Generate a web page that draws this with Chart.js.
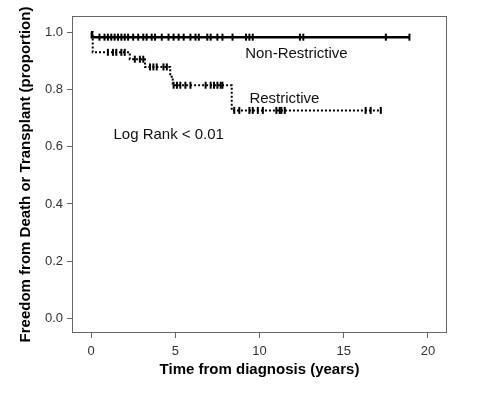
<!DOCTYPE html>
<html>
<head>
<meta charset="utf-8">
<script src="https://cdn.jsdelivr.net/npm/chart.js@4"></script>
<style>
  html, body { margin: 0; padding: 0; background: #fff; }
  canvas { display: block; }
</style>
</head>
<body>
<canvas id="km" width="480" height="397"></canvas>
<script>
// Kaplan-Meier steps: time (years) and proportion free from death/transplant
const nonRestrictTimes = [0, 0.05, 18.9];
const nonRestrictSurv  = [1.0, 0.983, 0.983];
const restrictTimes = [0, 0.1, 2.3, 3.2, 4.7, 4.85, 8.35, 17.2];
const restrictSurv  = [1.0, 0.930, 0.906, 0.879, 0.845, 0.815, 0.727, 0.727];

// censored cases (years)
const nonRestrictCensored = [0.5, 0.8, 1.0, 1.2, 1.4, 1.6, 1.8, 2.0, 2.2, 2.5, 2.8, 3.1, 3.3,
  3.6, 3.8, 4.2, 4.6, 4.9, 5.2, 5.5, 5.9, 6.2, 6.4, 6.9, 7.1, 7.5, 7.8, 8.4, 9.2, 9.4, 9.6,
  12.4, 12.6, 17.5, 18.9];
const restrictCensored = [1.0, 1.3, 1.5, 1.8, 2.0, 2.6, 2.9, 3.1, 3.5, 3.7, 3.9, 4.3, 4.5,
  4.9, 5.1, 5.3, 5.6, 5.9, 6.8, 7.1, 7.3, 7.5, 7.7, 7.8, 8.5, 8.8, 9.4, 9.6, 9.9, 10.2,
  11.0, 11.2, 11.3, 11.5, 16.3, 16.6, 17.2];

const xTicks = [0, 5, 10, 15, 20];
const yTicks = [0, 0.2, 0.4, 0.6, 0.8, 1.0];

// survival value at time t from the step arrays
function survAt(times, surv, t) {
  let s = surv[0];
  for (let i = 0; i < times.length; i++) {
    if (times[i] <= t) s = surv[i];
  }
  return s;
}

function steps(times, surv) {
  return times.map((t, i) => ({ x: t, y: surv[i] }));
}

function marks(cens, times, surv) {
  return cens.map(t => ({ x: t, y: survAt(times, surv, t) }));
}

const FONT = "'Liberation Sans', Arial, sans-serif";

// text notes placed in data coordinates
const notes = [
  { text: 'Non-Restrictive', x: 9.15, y: 0.910 },
  { text: 'Restrictive', x: 9.4, y: 0.753 },
  { text: 'Log Rank < 0.01', x: 1.33, y: 0.627 }
];

const frameAndNotes = {
  id: 'frameAndNotes',
  afterDraw(chart) {
    const { ctx, chartArea: a, scales: { x, y } } = chart;
    ctx.save();
    ctx.strokeStyle = '#666';
    ctx.lineWidth = 1;
    ctx.strokeRect(a.left + 0.5, a.top + 0.5, a.right - a.left - 1, a.bottom - a.top - 1);
    ctx.fillStyle = '#111';
    ctx.font = '15px ' + FONT;
    ctx.textAlign = 'left';
    ctx.textBaseline = 'alphabetic';
    notes.forEach(n => ctx.fillText(n.text, x.getPixelForValue(n.x), y.getPixelForValue(n.y)));
    ctx.restore();
  }
};

new Chart(document.getElementById('km'), {
  type: 'line',
  data: {
    datasets: [
      {
        label: 'Non-Restrictive',
        data: steps(nonRestrictTimes, nonRestrictSurv),
        stepped: true,
        borderColor: '#000',
        borderWidth: 2.5,
        pointRadius: 0,
        fill: false
      },
      {
        label: 'Restrictive',
        data: steps(restrictTimes, restrictSurv),
        stepped: true,
        borderColor: '#000',
        borderWidth: 2,
        borderDash: [2, 2],
        pointRadius: 0,
        fill: false
      },
      {
        label: 'Non-Restrictive censored',
        data: marks(nonRestrictCensored, nonRestrictTimes, nonRestrictSurv),
        showLine: false,
        pointStyle: 'line',
        rotation: 90,
        pointRadius: 3.5,
        pointBorderWidth: 2,
        borderColor: '#000'
      },
      {
        label: 'Restrictive censored',
        data: marks(restrictCensored, restrictTimes, restrictSurv),
        showLine: false,
        pointStyle: 'line',
        rotation: 90,
        pointRadius: 3.5,
        pointBorderWidth: 2,
        borderColor: '#000'
      }
    ]
  },
  options: {
    responsive: false,
    animation: false,
    layout: { padding: { left: 0, top: 16, right: 33, bottom: 0 } },
    plugins: { legend: { display: false }, tooltip: { enabled: false } },
    scales: {
      x: {
        type: 'linear',
        min: -1.13,
        max: 21.13,
        afterBuildTicks: s => { s.ticks = xTicks.map(v => ({ value: v })); },
        afterFit: s => { s.height = 64; },
        border: { display: false },
        grid: { drawOnChartArea: false, drawTicks: true, tickLength: 5, color: '#666' },
        ticks: { padding: 6, color: '#333', font: { family: FONT, size: 13 } },
        title: {
          display: true,
          text: 'Time from diagnosis (years)',
          color: '#000',
          font: { family: FONT, size: 15, weight: 'bold' },
          padding: { top: 0, bottom: 18 }
        }
      },
      y: {
        type: 'linear',
        min: -0.051,
        max: 1.057,
        afterBuildTicks: s => { s.ticks = yTicks.map(v => ({ value: v })); },
        afterFit: s => { s.width = 72; },
        border: { display: false },
        grid: { drawOnChartArea: false, drawTicks: true, tickLength: 5, color: '#666' },
        ticks: {
          padding: 4,
          color: '#333',
          font: { family: FONT, size: 13 },
          callback: v => v.toFixed(1)
        },
        title: {
          display: true,
          text: 'Freedom from Death or Transplant (proportion)',
          color: '#000',
          font: { family: FONT, size: 15, weight: 'bold' },
          padding: { top: 17, bottom: 0 }
        }
      }
    }
  },
  plugins: [frameAndNotes]
});
</script>
</body>
</html>
